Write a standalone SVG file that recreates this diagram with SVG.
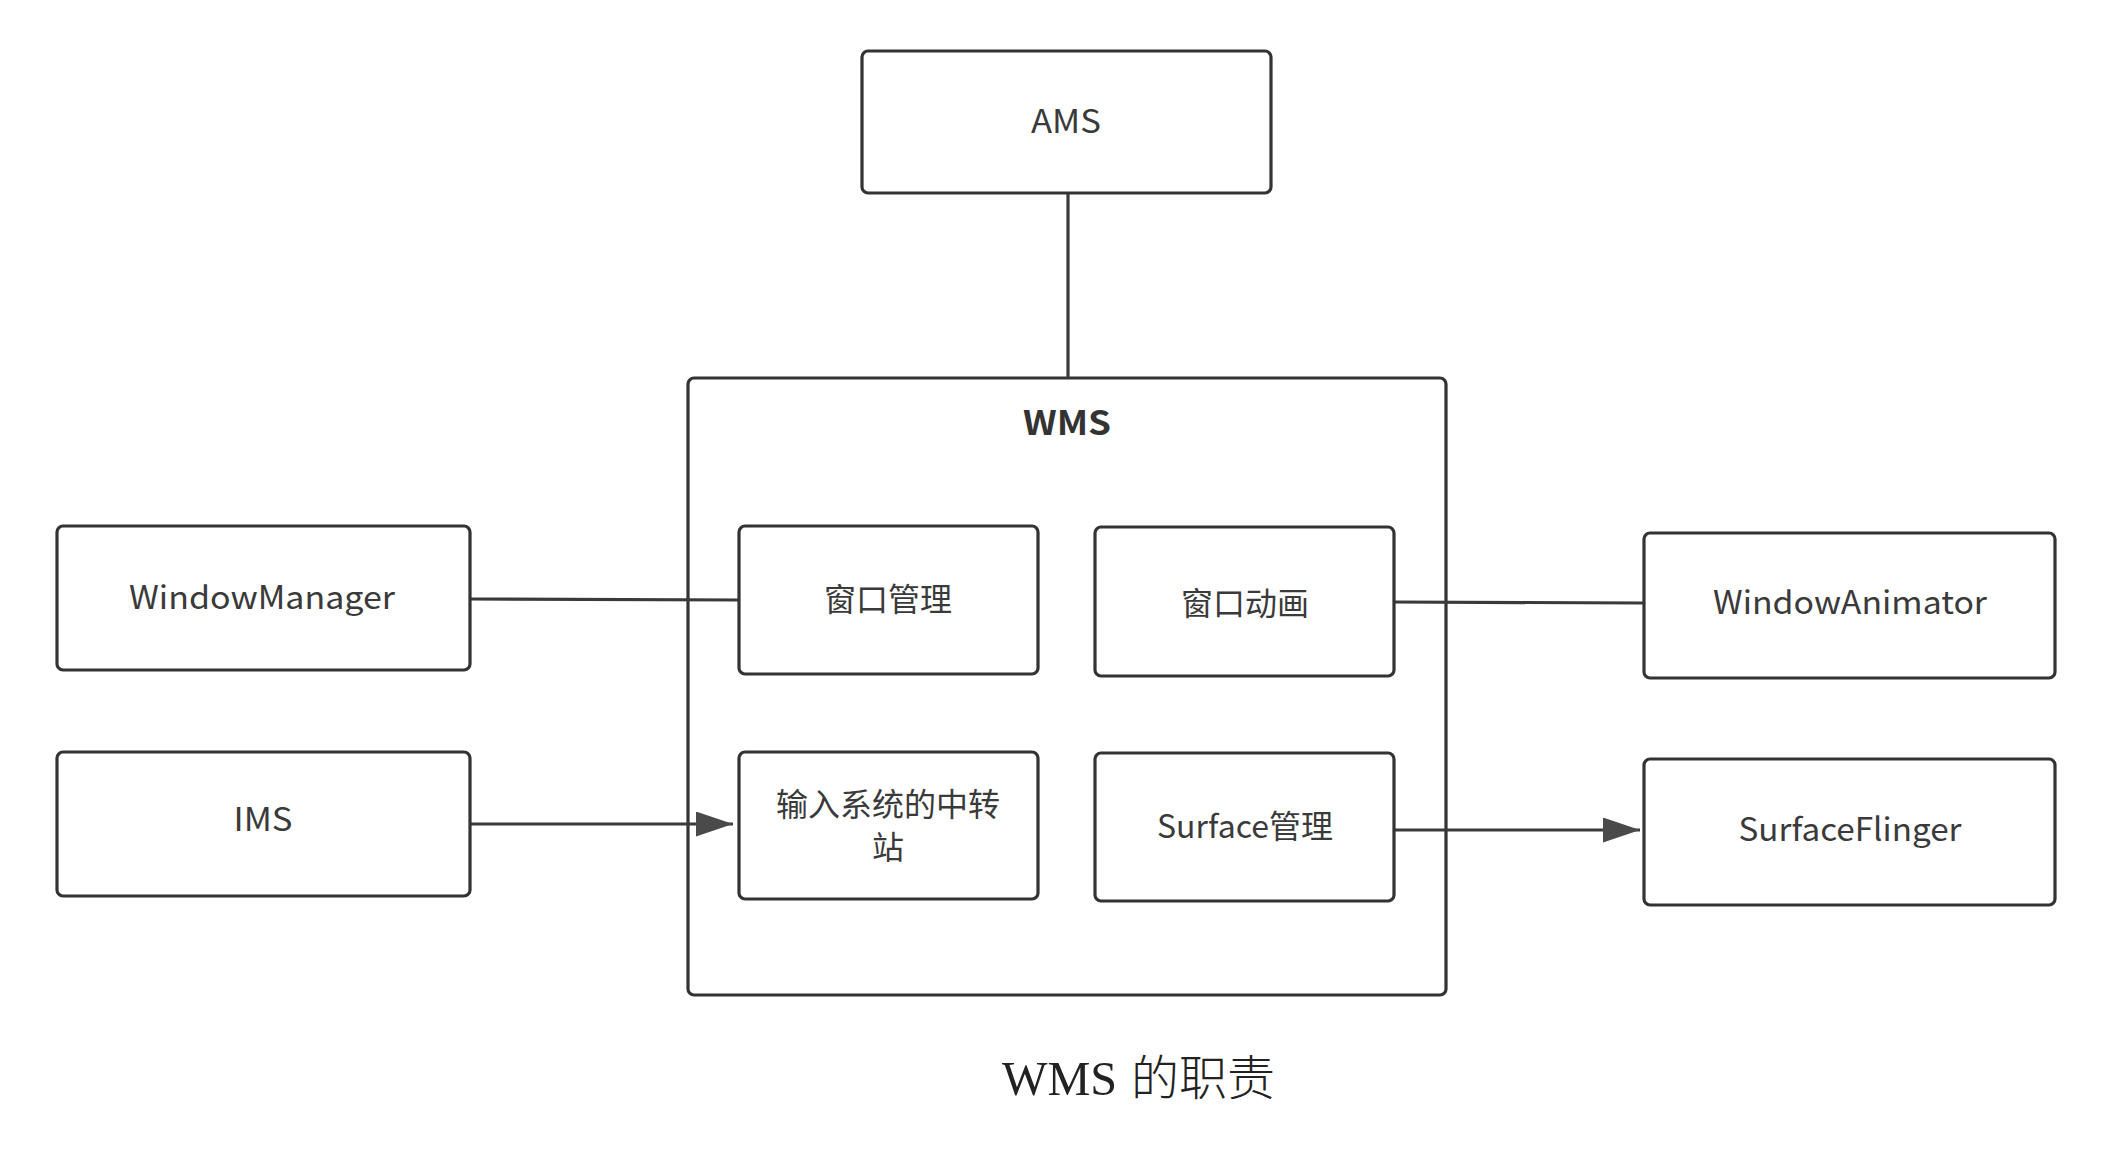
<svg xmlns="http://www.w3.org/2000/svg" width="2106" height="1155" viewBox="0 0 2106 1155">
<defs>
<style>
.box{fill:#fff;stroke:#333;stroke-width:3.2}
.wms{fill:none;stroke:#333;stroke-width:3.2}
.lbl{font-family:"Noto Sans CJK SC","Noto Sans",sans-serif;font-size:32px;fill:#3a3a3a;text-anchor:middle}
.title{font-family:"Noto Sans CJK SC","Noto Sans",sans-serif;font-size:33px;font-weight:bold;fill:#333;text-anchor:middle}
.cap{font-family:"Liberation Serif","Noto Sans CJK SC",serif;font-size:48px;fill:#222}
.capcjk{font-family:"Noto Sans CJK SC",serif;font-size:48px;font-weight:300;fill:#222}
.conn{stroke:#3a3a3a;stroke-width:3.2;fill:none}
</style>
<marker id="arr" markerUnits="userSpaceOnUse" markerWidth="40" markerHeight="28" refX="37" refY="12.5" orient="auto">
<path d="M0,0 L37,12.5 L0,25 Z" fill="#4a4a4a"/>
</marker>
</defs>
<rect width="2106" height="1155" fill="#fff"/>

<g id="wms">
<rect class="wms" x="688" y="378" width="758" height="617" rx="6"/>
<text class="title" x="1067" y="435" textLength="88" lengthAdjust="spacingAndGlyphs">WMS</text>
</g>

<g id="connectors">
<line class="conn" x1="1068" y1="193" x2="1068" y2="378"/>
<line class="conn" x1="470" y1="599" x2="739" y2="600"/>
<line class="conn" x1="470" y1="824" x2="733" y2="824" marker-end="url(#arr)"/>
<line class="conn" x1="1394" y1="602" x2="1644" y2="603"/>
<line class="conn" x1="1394" y1="830" x2="1640" y2="830" marker-end="url(#arr)"/>
</g>

<g id="ams">
<rect class="box" x="862" y="51" width="409" height="142" rx="6"/>
<text class="lbl" x="1066" y="133" textLength="70" lengthAdjust="spacingAndGlyphs">AMS</text>
</g>

<g id="windowmanager">
<rect class="box" x="57" y="526" width="413" height="144" rx="6"/>
<text class="lbl" x="262" y="609" textLength="266" lengthAdjust="spacingAndGlyphs">WindowManager</text>
</g>

<g id="ims">
<rect class="box" x="57" y="752" width="413" height="144" rx="6"/>
<text class="lbl" x="263" y="831" textLength="59" lengthAdjust="spacingAndGlyphs">IMS</text>
</g>

<g id="window-mgmt">
<rect class="box" x="739" y="526" width="299" height="148" rx="6"/>
<text class="lbl" x="888" y="611">窗口管理</text>
</g>

<g id="input-relay">
<rect class="box" x="739" y="752" width="299" height="147" rx="6"/>
<text class="lbl" x="888" y="816">输入系统的中转</text>
<text class="lbl" x="888" y="859">站</text>
</g>

<g id="window-anim">
<rect class="box" x="1095" y="527" width="299" height="149" rx="6"/>
<text class="lbl" x="1245" y="615">窗口动画</text>
</g>

<g id="surface-mgmt">
<rect class="box" x="1095" y="753" width="299" height="148" rx="6"/>
<text class="lbl" x="1245" y="838">Surface管理</text>
</g>

<g id="windowanimator">
<rect class="box" x="1644" y="533" width="411" height="145" rx="6"/>
<text class="lbl" x="1850" y="614" textLength="274" lengthAdjust="spacingAndGlyphs">WindowAnimator</text>
</g>

<g id="surfaceflinger">
<rect class="box" x="1644" y="759" width="411" height="146" rx="6"/>
<text class="lbl" x="1850" y="841" textLength="223" lengthAdjust="spacingAndGlyphs">SurfaceFlinger</text>
</g>

<text class="cap" x="1002" y="1095"><tspan textLength="115" lengthAdjust="spacingAndGlyphs">WMS</tspan><tspan class="capcjk" x="1131">的职责</tspan></text>
</svg>
